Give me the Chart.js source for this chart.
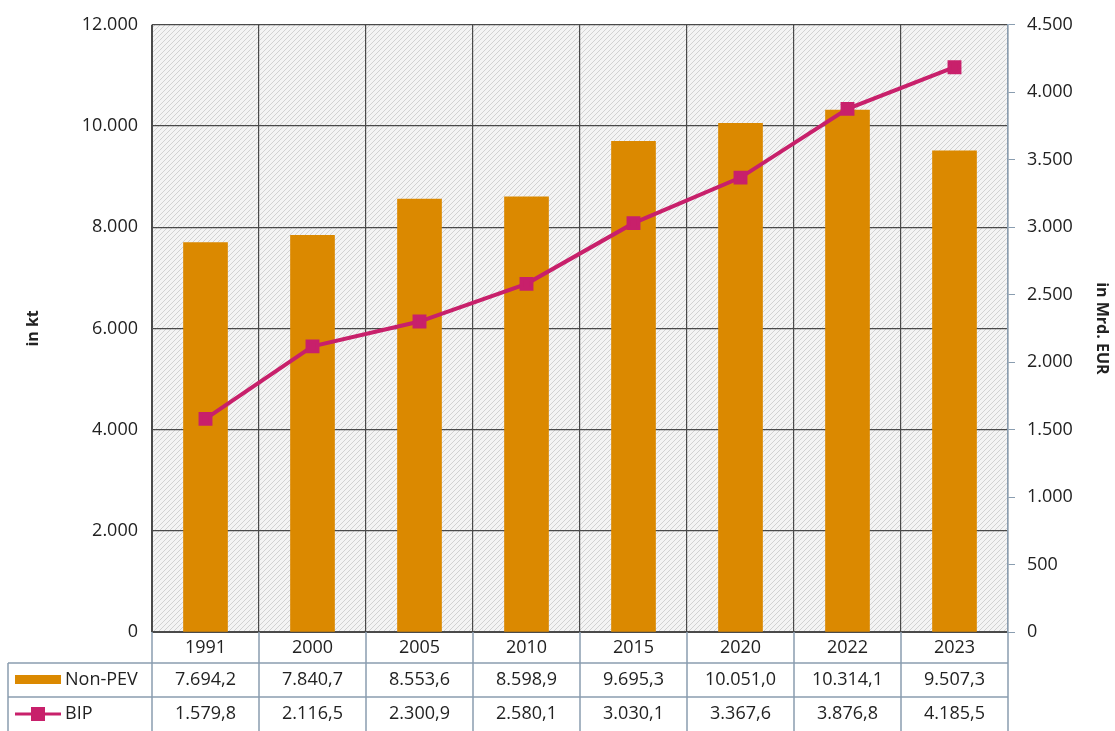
<!DOCTYPE html>
<html>
<head>
<meta charset="utf-8">
<script src="https://cdn.jsdelivr.net/npm/chart.js@4"></script>
<style>
  body { margin:0; background:#fff; }
  #wrap { width:1115px; height:731px; }
</style>
</head>
<body>
<div id="wrap"><canvas id="chart" width="1115" height="731"></canvas></div>
<script>
var years = ['1991','2000','2005','2010','2015','2020','2022','2023'];
var nonPev = [7694.2, 7840.7, 8553.6, 8598.9, 9695.3, 10051.0, 10314.1, 9507.3];
var bip = [1579.8, 2116.5, 2300.9, 2580.1, 3030.1, 3367.6, 3876.8, 4185.5];
var seriesNames = ['Non-PEV', 'BIP'];

var ORANGE = '#DB8900', PINK = '#C8206B', GRID = '#4a4a4a', TABLE = '#8a9db0';
var FONT = '"Open Sans", Lato, sans-serif';

function fmt(v, dec){
    var parts = v.toFixed(dec).split('.');
    var s = parts[0].replace(/\B(?=(\d{3})+(?!\d))/g, '.');
    return dec ? s + ',' + parts[1] : s;
}

function hatch(){
    var c = document.createElement('canvas');
    c.width = 5; c.height = 5;
    var g = c.getContext('2d');
    g.fillStyle = '#f4f4f4';
    g.fillRect(0,0,5,5);
    g.strokeStyle = '#d2d2d2';
    g.lineWidth = 1;
    g.beginPath();
    g.moveTo(-1,6); g.lineTo(6,-1);
    g.moveTo(-1,1); g.lineTo(1,-1);
    g.moveTo(4,6); g.lineTo(6,4);
    g.stroke();
    return c;
}

var bgPlugin = {
    id: 'bg',
    beforeDraw: function(chart){
        var a = chart.chartArea, ctx = chart.ctx;
        ctx.save();
        ctx.fillStyle = ctx.createPattern(hatch(), 'repeat');
        ctx.fillRect(a.left, a.top, a.right - a.left, a.bottom - a.top);
        ctx.restore();
    }
};

var tablePlugin = {
    id: 'table',
    afterDraw: function(chart){
        var ctx = chart.ctx, a = chart.chartArea, x = chart.scales.x;
        var step = (a.right - a.left) / years.length;
        var r0 = a.bottom, r1 = 663, r2 = 697, r3 = 731, left = 8;
        ctx.save();
        ctx.strokeStyle = TABLE;
        ctx.lineWidth = 1.5;
        ctx.beginPath();
        ctx.moveTo(left, r1); ctx.lineTo(a.right, r1);
        ctx.moveTo(left, r2); ctx.lineTo(a.right, r2);
        ctx.moveTo(left, r1); ctx.lineTo(left, r3);
        for (var i = 0; i <= years.length; i++){
            var gx = a.left + i * step;
            ctx.moveTo(gx, r0); ctx.lineTo(gx, r3);
        }
        ctx.stroke();

        ctx.fillStyle = '#222';
        ctx.font = '18px ' + FONT;
        ctx.textAlign = 'center';
        ctx.textBaseline = 'middle';
        years.forEach(function(y, i){
            var cx = x.getPixelForValue(i);
            ctx.fillText(y, cx, (r0 + r1) / 2);
            ctx.fillText(fmt(nonPev[i], 1), cx, (r1 + r2) / 2);
            ctx.fillText(fmt(bip[i], 1), cx, (r2 + r3) / 2);
        });

        // legend keys
        ctx.fillStyle = ORANGE;
        ctx.fillRect(15, 675, 46, 9);
        ctx.strokeStyle = PINK;
        ctx.lineWidth = 3;
        ctx.beginPath(); ctx.moveTo(15, 714); ctx.lineTo(61, 714); ctx.stroke();
        ctx.fillStyle = PINK;
        ctx.fillRect(31, 707, 14, 14);
        ctx.fillStyle = '#222';
        ctx.textAlign = 'left';
        ctx.fillText(seriesNames[0], 65, (r1 + r2) / 2);
        ctx.fillText(seriesNames[1], 65, (r2 + r3) / 2);
        ctx.restore();
    }
};

new Chart(document.getElementById('chart'), {
    type: 'bar',
    data: {
        labels: years,
        datasets: [
            { type: 'line', label: seriesNames[1], data: bip, yAxisID: 'y1', borderColor: PINK, backgroundColor: PINK,
              borderWidth: 4, pointStyle: 'rect', pointRadius: 7, pointHoverRadius: 7, tension: 0, order: 0 },
            { label: seriesNames[0], data: nonPev, yAxisID: 'y', backgroundColor: ORANGE,
              barThickness: 44, order: 1 }
        ]
    },
    plugins: [bgPlugin, tablePlugin],
    options: {
        responsive: false,
        animation: false,
        layout: { padding: { top: 12, bottom: 99, left: 0, right: 0 } },
        plugins: { legend: { display: false }, tooltip: { enabled: false } },
        scales: {
            x: {
                ticks: { display: false },
                grid: { color: GRID, lineWidth: 1.2, offset: true, drawTicks: false },
                border: { color: GRID },
                afterFit: function(s){ s.height = 0; }
            },
            y: {
                min: 0, max: 12000,
                ticks: { stepSize: 2000, color: '#222', font: { size: 18, family: FONT }, padding: 14,
                         callback: function(v){ return fmt(v, 0); } },
                grid: { color: GRID, lineWidth: 1.2, drawTicks: false },
                border: { color: GRID },
                title: { display: true, text: 'in kt', color: '#222', padding: { top: 24, bottom: 4 },
                         font: { size: 16, weight: 'bold', family: FONT } },
                afterFit: function(s){ s.width = 152; }
            },
            y1: {
                position: 'right',
                min: 0, max: 4500,
                ticks: { stepSize: 500, color: '#222', font: { size: 18, family: FONT }, padding: 12,
                         callback: function(v){ return fmt(v, 0); } },
                grid: { drawOnChartArea: false, tickLength: 7, color: TABLE },
                border: { color: TABLE, width: 1.5 },
                title: { display: true, text: 'in Mrd. EUR', color: '#222', font: { size: 16, weight: 'bold', family: FONT } },
                afterFit: function(s){ s.width = 107; }
            }
        }
    }
});
</script>
</body>
</html>
